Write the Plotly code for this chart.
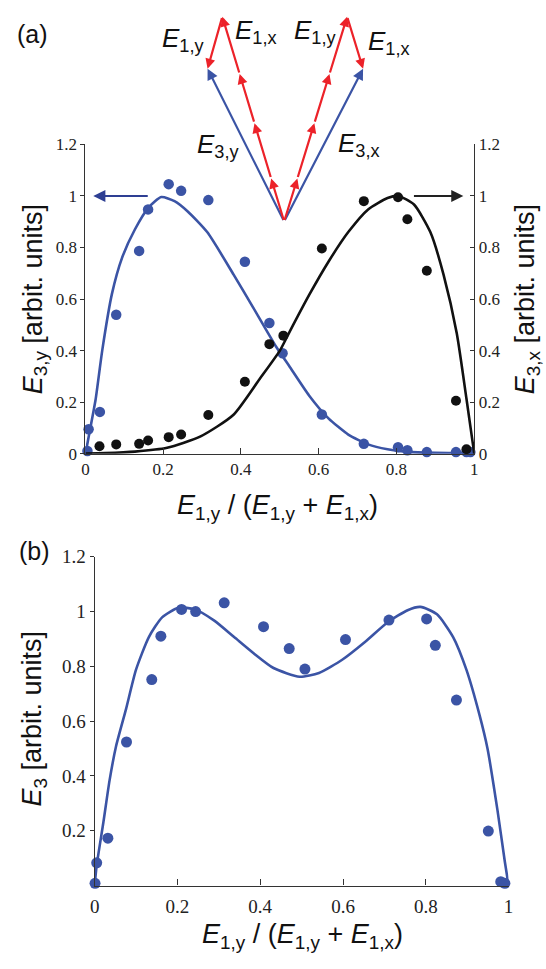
import plotly.graph_objects as go

W, H = 546, 969

# ---------------- data: panel (a) ----------------
a_blue_pts_x = [0.005, 0.008, 0.037, 0.079, 0.138, 0.161, 0.214, 0.246, 0.316, 0.410, 0.473,
                0.507, 0.608, 0.716, 0.804, 0.828, 0.878, 0.953, 0.980, 0.990]
a_blue_pts_y = [0.010, 0.095, 0.162, 0.539, 0.787, 0.948, 1.046, 1.020, 0.984, 0.745, 0.507,
                0.390, 0.152, 0.038, 0.025, 0.013, 0.006, 0.006, 0.006, 0.006]

a_black_pts_x = [0.036, 0.079, 0.138, 0.161, 0.214, 0.246, 0.316, 0.410, 0.473, 0.509,
                 0.608, 0.716, 0.804, 0.828, 0.878, 0.953, 0.980]
a_black_pts_y = [0.029, 0.036, 0.038, 0.051, 0.064, 0.074, 0.150, 0.279, 0.425, 0.458,
                 0.796, 0.980, 0.995, 0.910, 0.710, 0.205, 0.017]

a_blue_curve_x = [0.0, 0.010, 0.026, 0.043, 0.068, 0.094, 0.127, 0.162, 0.195, 0.229, 0.263,
                  0.313, 0.381, 0.431, 0.490, 0.524, 0.575, 0.625, 0.676, 0.727, 0.777,
                  0.828, 0.900, 1.0]
a_blue_curve_y = [0.0, 0.080, 0.210, 0.400, 0.620, 0.760, 0.870, 0.955, 0.996, 0.980, 0.940,
                  0.860, 0.695, 0.568, 0.416, 0.340, 0.226, 0.137, 0.074, 0.036, 0.017,
                  0.007, 0.003, 0.002]

a_black_curve_x = [0.0, 0.05, 0.127, 0.210, 0.296, 0.380, 0.448, 0.500, 0.524, 0.575, 0.625,
                   0.676, 0.727, 0.777, 0.805, 0.845, 0.887, 0.921, 0.955, 0.980, 1.0]
a_black_curve_y = [0.0, 0.002, 0.008, 0.023, 0.067, 0.150, 0.290, 0.400, 0.470, 0.615, 0.745,
                   0.860, 0.948, 0.992, 1.000, 0.967, 0.860, 0.695, 0.467, 0.213, 0.0]

# ---------------- data: panel (b) ----------------
b_pts_x = [0.001, 0.005, 0.032, 0.077, 0.138, 0.160, 0.210, 0.244, 0.313, 0.408, 0.470,
           0.508, 0.606, 0.711, 0.802, 0.823, 0.874, 0.951, 0.981, 0.991]
b_pts_y = [0.008, 0.083, 0.173, 0.524, 0.752, 0.910, 1.008, 1.000, 1.032, 0.945, 0.865,
           0.790, 0.898, 0.969, 0.973, 0.877, 0.677, 0.199, 0.014, 0.008]

b_curve_x = [0.0, 0.005, 0.021, 0.036, 0.052, 0.076, 0.100, 0.131, 0.163, 0.2025, 0.242,
             0.289, 0.337, 0.384, 0.432, 0.495, 0.542, 0.598, 0.653, 0.708, 0.756, 0.787,
             0.827, 0.866, 0.898, 0.930, 0.949, 0.973, 0.991, 1.0]
b_curve_y = [0.0, 0.074, 0.229, 0.383, 0.510, 0.645, 0.788, 0.907, 0.979, 1.014, 1.008,
             0.967, 0.907, 0.848, 0.794, 0.762, 0.776, 0.824, 0.889, 0.961, 1.005, 1.017,
             0.990, 0.907, 0.788, 0.621, 0.500, 0.276, 0.086, 0.0]

# ---------------- tick labels ----------------
x_ticks = [0, 0.2, 0.4, 0.6, 0.8, 1.0]
x_ticktext = ["0", "0.2", "0.4", "0.6", "0.8", "1"]
ya_ticks = [0, 0.2, 0.4, 0.6, 0.8, 1.0, 1.2]
ya_ticktext = ["0", "0.2", "0.4", "0.6", "0.8", "1", "1.2"]
yb_ticks = [0.2, 0.4, 0.6, 0.8, 1.0, 1.2]
yb_ticktext = ["0.2", "0.4", "0.6", "0.8", "1", "1.2"]

# ---------------- schematic vectors (panel (a) data units) ----------------
vec_origin = (0.511, 0.901)
vec_E3y_tip = (0.314, 1.494)
vec_E3x_tip = (0.714, 1.494)
vec_left_top = (0.352, 1.696)
vec_right_top = (0.673, 1.696)
red_steps = [0.21, 0.48, 0.72, 1.0]

BLUE = "#3b54a5"
BLUE_ARROW = "#2e3f93"
RED = "#ec2229"
BLACK = "#111111"
AXC = "#333333"
SERIF = "'Liberation Serif', 'Times New Roman', Times, serif"
SANS = "'Liberation Sans', Arial, Helvetica, sans-serif"

# ---------------- geometry ----------------
xa_dom = [82 / W, 478 / W]
ya_dom = [1 - 453 / H, 1 - 137.3 / H]
xb_dom = [91.3 / W, 513 / W]
yb_dom = [1 - 894 / H, 1 - 558.3 / H]
px_per_unit = (ya_dom[1] - ya_dom[0]) * H / 1.2
top_range = (1 - ya_dom[0]) * H / px_per_unit

fig = go.Figure()

fig.add_trace(go.Scatter(x=a_blue_curve_x, y=a_blue_curve_y, mode="lines",
                         line=dict(color=BLUE, width=2.6, shape="spline", smoothing=0.6),
                         xaxis="x", yaxis="y", showlegend=False, cliponaxis=False))
fig.add_trace(go.Scatter(x=a_black_curve_x, y=a_black_curve_y, mode="lines",
                         line=dict(color=BLACK, width=2.6, shape="spline", smoothing=0.6),
                         xaxis="x", yaxis="y2", showlegend=False, cliponaxis=False))
fig.add_trace(go.Scatter(x=a_black_pts_x, y=a_black_pts_y, mode="markers",
                         marker=dict(color=BLACK, size=10),
                         xaxis="x", yaxis="y2", showlegend=False, cliponaxis=False))
fig.add_trace(go.Scatter(x=a_blue_pts_x, y=a_blue_pts_y, mode="markers",
                         marker=dict(color=BLUE, size=10.5),
                         xaxis="x", yaxis="y", showlegend=False, cliponaxis=False))

fig.add_trace(go.Scatter(x=b_curve_x, y=b_curve_y, mode="lines",
                         line=dict(color=BLUE, width=2.6, shape="spline", smoothing=0.6),
                         xaxis="x2", yaxis="y3", showlegend=False, cliponaxis=False))
fig.add_trace(go.Scatter(x=b_pts_x, y=b_pts_y, mode="markers",
                         marker=dict(color=BLUE, size=11),
                         xaxis="x2", yaxis="y3", showlegend=False, cliponaxis=False))

# invisible anchor trace for schematic axes
fig.add_trace(go.Scatter(x=[vec_origin[0]], y=[vec_origin[1]], mode="markers",
                         marker=dict(size=1, opacity=0), xaxis="x3", yaxis="y4",
                         showlegend=False, hoverinfo="skip"))

tickfont_a = dict(family=SERIF, size=17, color="#222")
tickfont_b = dict(family=SERIF, size=19, color="#222")

axis_common = dict(showgrid=False, zeroline=False, showline=True, linecolor=AXC,
                   linewidth=1.2, tickcolor=AXC, tickwidth=1.2)

fig.update_layout(
    width=W, height=H, margin=dict(l=0, r=0, t=0, b=0),
    paper_bgcolor="white", plot_bgcolor="rgba(0,0,0,0)",
    xaxis=dict(domain=xa_dom, range=[0, 1], anchor="y", tickvals=x_ticks, ticktext=x_ticktext,
               ticks="inside", ticklen=6, tickfont=tickfont_a, **axis_common),
    yaxis=dict(domain=ya_dom, range=[0, 1.2], anchor="x", tickvals=ya_ticks, ticktext=ya_ticktext,
               ticks="outside", ticklen=4, tickfont=tickfont_a, **axis_common),
    yaxis2=dict(overlaying="y", side="right", range=[0, 1.2], anchor="x", tickvals=ya_ticks,
                ticktext=ya_ticktext, ticks="inside", ticklen=4, tickfont=tickfont_a, **axis_common),
    xaxis2=dict(domain=xb_dom, range=[0, 1], anchor="y3", tickvals=x_ticks, ticktext=x_ticktext,
                ticks="inside", ticklen=6, tickfont=tickfont_b, ticklabelstandoff=4,
                **axis_common),
    yaxis3=dict(domain=yb_dom, range=[0, 1.2], anchor="x2", tickvals=yb_ticks, ticktext=yb_ticktext,
                ticks="outside", ticklen=4, tickfont=tickfont_b, **axis_common),
    xaxis3=dict(domain=xa_dom, range=[0, 1], anchor="y4", visible=False),
    yaxis4=dict(domain=[ya_dom[0], 1.0], range=[0, top_range], anchor="x3", visible=False),
)

ann = []


def E(sub):
    return "<i>E</i><sub>%s</sub>" % sub


title_font = dict(family=SANS, size=27, color="#111")


def ptext(text, px, py, font, angle=0):
    return dict(text=text, x=px / W, y=1 - py / H, xref="paper", yref="paper",
                xanchor="center", yanchor="middle", showarrow=False, textangle=angle,
                font=font)


# panel labels
ann.append(ptext("(a)", 28, 25, dict(family=SANS, size=25, color="#111")))
ann.append(ptext("(b)", 30, 552, dict(family=SANS, size=25, color="#111")))

# axis titles
xtitle = E("1,y") + " / (" + E("1,y") + " + " + E("1,x") + ")"
ann.append(ptext(xtitle, 278, 507, title_font))
ann.append(ptext(xtitle, 303, 946, title_font))
ann.append(ptext(E("3,y") + " [arbit. units]", 30, 295, title_font, -90))
ann.append(ptext(E("3,x") + " [arbit. units]", 532, 295, title_font, -90))
ann.append(ptext(E("3") + " [arbit. units]", 30, 723, title_font, -90))

# horizontal axis-pointer arrows in panel (a)
ann.append(dict(x=0.02, y=1.0, ax=0.164, ay=1.0, xref="x", yref="y", axref="x", ayref="y",
                text="", showarrow=True, arrowhead=2, arrowsize=1.1, arrowwidth=2.2,
                arrowcolor=BLUE_ARROW, standoff=0, startstandoff=0))
ann.append(dict(x=0.972, y=1.0, ax=0.841, ay=1.0, xref="x", yref="y", axref="x", ayref="y",
                text="", showarrow=True, arrowhead=2, arrowsize=1.1, arrowwidth=2.2,
                arrowcolor="#222", standoff=0, startstandoff=0))


def vec(tail, head, color, width=2.2, size=1.0):
    return dict(x=head[0], y=head[1], ax=tail[0], ay=tail[1], xref="x3", yref="y4",
                axref="x3", ayref="y4", text="", showarrow=True, arrowhead=2,
                arrowsize=size, arrowwidth=width, arrowcolor=color,
                standoff=0, startstandoff=0)


# blue E3 vectors
ann.append(vec(vec_origin, vec_E3y_tip, BLUE))
ann.append(vec(vec_origin, vec_E3x_tip, BLUE))
# red E1 long vectors built from segments
for top in (vec_left_top, vec_right_top):
    prev = vec_origin
    for f in red_steps:
        p = (vec_origin[0] + f * (top[0] - vec_origin[0]),
             vec_origin[1] + f * (top[1] - vec_origin[1]))
        ann.append(vec(prev, p, RED, width=2.2, size=0.9))
        prev = p
ann.append(vec(vec_left_top, vec_E3y_tip, RED, width=2.2, size=0.9))
ann.append(vec(vec_right_top, vec_E3x_tip, RED, width=2.2, size=0.9))

# schematic labels
lab_font = dict(family=SANS, size=26, color="#111")
schematic_labels = [
    (E("1,y"), 0.251, 1.608),
    (E("1,x"), 0.438, 1.639),
    (E("1,y"), 0.592, 1.639),
    (E("1,x"), 0.782, 1.597),
    (E("3,y"), 0.342, 1.197),
    (E("3,x"), 0.704, 1.201),
]
for t, lx, ly in schematic_labels:
    ann.append(dict(text=t, x=lx, y=ly, xref="x3", yref="y4", xanchor="center",
                    yanchor="middle", showarrow=False, font=lab_font))

fig.update_layout(annotations=ann)

fig.write_html("out.html")
